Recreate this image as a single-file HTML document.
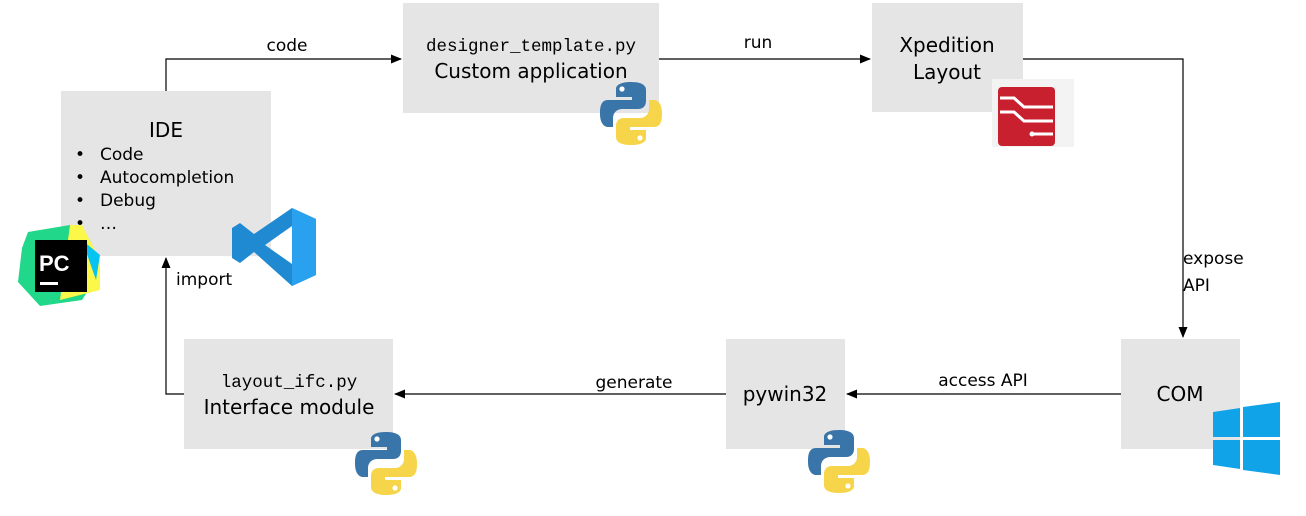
<!DOCTYPE html>
<html><head><meta charset="utf-8"><style>
html,body{margin:0;padding:0;background:#fff;}
svg{display:block;}
text{font-family:"DejaVu Sans","Liberation Sans",sans-serif;fill:#000;}
.mono{font-family:"Liberation Mono",monospace;}
</style></head><body>
<svg width="1306" height="516" viewBox="0 0 1306 516" xmlns="http://www.w3.org/2000/svg">
<defs>
<marker id="ah" markerWidth="11" markerHeight="9" refX="10" refY="4.5" orient="auto" markerUnits="userSpaceOnUse">
<path d="M0,0 L11,4.5 L0,9 z" fill="#000"/></marker>
<g id="py">
<path d="M31,0 c-16,0 -15,7 -15,7 v8 h16 v3 H8 c-8,0 -8,9 -8,14 c0,12 7,13 7,13 h6 v-9 c0,-6 5,-9 9,-9 h16 c5,0 8,-3 8,-8 V8 c0,-5 -5,-8 -15,-8 z" fill="#3a75aa"/>
<circle cx="22" cy="7" r="2.6" fill="#fff"/>
<g transform="rotate(180 31 31.5)">
<path d="M31,0 c-16,0 -15,7 -15,7 v8 h16 v3 H8 c-8,0 -8,9 -8,14 c0,12 7,13 7,13 h6 v-9 c0,-6 5,-9 9,-9 h16 c5,0 8,-3 8,-8 V8 c0,-5 -5,-8 -15,-8 z" fill="#f7d54a"/>
<circle cx="22" cy="7" r="2.6" fill="#fff"/>
</g>
</g>
</defs>

<rect x="61" y="91" width="210" height="165" fill="#e6e5e5"/>
<rect x="403" y="3" width="256" height="110" fill="#e6e5e5"/>
<rect x="872" y="3" width="151" height="109" fill="#e6e5e5"/>
<rect x="1121" y="339" width="119" height="110" fill="#e6e5e5"/>
<rect x="726" y="339" width="119" height="110" fill="#e6e5e5"/>
<rect x="184" y="339" width="209" height="110" fill="#e6e5e5"/>

<g stroke="#000" stroke-width="1.2" fill="none">
<path d="M166,91 V59 H401" marker-end="url(#ah)"/>
<path d="M659,59 H870" marker-end="url(#ah)"/>
<path d="M1023,59 H1183 V337" marker-end="url(#ah)"/>
<path d="M1121,394 H847" marker-end="url(#ah)"/>
<path d="M726,394 H395" marker-end="url(#ah)"/>
<path d="M184,394 H166 V258" marker-end="url(#ah)"/>
</g>

<text x="287" y="51" font-size="17" text-anchor="middle">code</text>
<text x="758" y="48" font-size="17" text-anchor="middle">run</text>
<text x="1183" y="264" font-size="17">expose</text>
<text x="1183" y="291" font-size="17">API</text>
<text x="983" y="386" font-size="17" text-anchor="middle">access API</text>
<text x="634" y="388" font-size="17" text-anchor="middle">generate</text>
<text x="176" y="285" font-size="17">import</text>

<text x="166" y="137" font-size="20" text-anchor="middle">IDE</text>
<g font-size="17">
<text x="75" y="160">•</text><text x="100" y="160">Code</text>
<text x="75" y="183">•</text><text x="100" y="183">Autocompletion</text>
<text x="75" y="206">•</text><text x="100" y="206">Debug</text>
<text x="75" y="229">•</text><text x="100" y="229">…</text>
</g>
<text class="mono" x="531" y="51" font-size="17.5" text-anchor="middle">designer_template.py</text>
<text x="531" y="78" font-size="20" text-anchor="middle">Custom application</text>
<text x="947" y="52" font-size="20" text-anchor="middle">Xpedition</text>
<text x="947" y="79" font-size="20" text-anchor="middle">Layout</text>
<text x="1180" y="401" font-size="20" text-anchor="middle">COM</text>
<text x="785" y="401" font-size="20" text-anchor="middle">pywin32</text>
<text class="mono" x="289" y="387" font-size="17.5" text-anchor="middle">layout_ifc.py</text>
<text x="289" y="414" font-size="20" text-anchor="middle">Interface module</text>

<use href="#py" transform="translate(600,82)"/>
<use href="#py" transform="translate(355,432)"/>
<use href="#py" transform="translate(808,430)"/>

<rect x="992" y="79" width="82" height="68" fill="#f3f3f3"/>
<rect x="998" y="87" width="57" height="59" rx="4" fill="#c8202e"/>
<g stroke="#fff" stroke-width="3" fill="none">
<path d="M1000,98 H1014 L1024,107 H1053"/>
<path d="M1000,112 H1014 L1024,121 H1053"/>
<path d="M1033,134 H1053"/>
</g>
<circle cx="1032" cy="134" r="2.5" fill="#fff"/>

<path d="M1213,412 L1240,408 V437 H1213 Z" fill="#10a3e8"/>
<path d="M1243,407 L1280,402 V437 H1243 Z" fill="#10a3e8"/>
<path d="M1213,440 H1240 V469 L1213,465 Z" fill="#10a3e8"/>
<path d="M1243,440 H1280 V475 L1243,470 Z" fill="#10a3e8"/>

<path d="M28,232 L70,225 L90,240 L100,272 L82,300 L40,306 L18,282 L22,248 Z" fill="#21d789"/>
<path d="M70,225 L82,225 L100,260 L100,290 L60,300 Z" fill="#fcf84a"/>
<path d="M82,240 L100,255 L96,280 Z" fill="#07c3f2"/>
<rect x="35" y="240" width="52" height="52" fill="#000"/>
<text x="39" y="271" font-size="22" font-weight="bold" style="fill:#fff;font-family:'Liberation Sans',sans-serif">PC</text>
<rect x="40" y="282" width="18" height="3" fill="#fff"/>

<path d="M292,208 L316,219 V275 L292,286 L254,252 L240,263 L232,258 V228 L240,223 L254,234 Z M292,226 L265,245 L292,264 Z" fill="#1f8ad2" fill-rule="evenodd"/>
<path d="M292,208 L316,219 V275 L292,286 Z" fill="#2aa1ef"/>
</svg>
</body></html>
